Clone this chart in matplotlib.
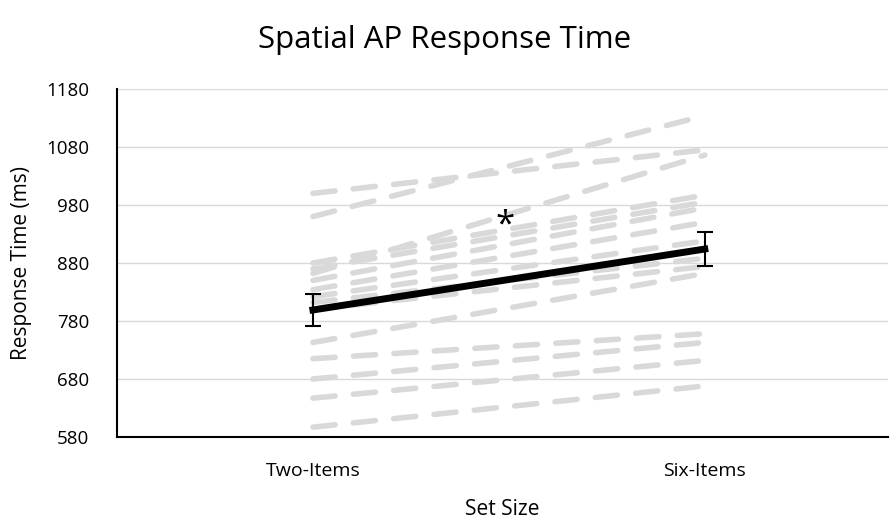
import matplotlib.pyplot as plt

# categories and values
set_sizes = ['Two-Items', 'Six-Items']
two_items = [1000, 960, 862, 880, 870, 850, 834, 822, 812, 800, 743, 715, 680, 647, 597]
six_items = [1075, 1134, 1066, 997, 985, 975, 950, 918, 888, 874, 862, 758, 743, 712, 668]
mean_rt = [799, 904]
err_rt = [27, 30]

plt.rcParams['font.family'] = ['Open Sans', 'DejaVu Sans']

fig = plt.figure(figsize=(8.9, 5.25), dpi=100)
ax = fig.add_axes([0.1315, 0.1676, 0.866, 0.663])

x = [0, 1]

# individual participants as grey dashed lines
for a, b in zip(two_items, six_items):
    ax.plot(x, [a, b], color='#d9d9d9', lw=4, ls=(0, (4.0, 3.3)),
            dash_capstyle='round', zorder=2)

# group mean with error bars
ax.errorbar(x, mean_rt, yerr=err_rt, color='black', lw=5, ecolor='black',
            elinewidth=1.5, capsize=6, capthick=1.5, zorder=3)

ax.text(0.49, 945, '*', fontsize=25, ha='center', va='center')

ax.set_xlim(-0.5, 1.467)
ax.set_ylim(580, 1180)
ax.set_yticks(range(580, 1181, 100))
ax.set_xticks(x)
ax.set_xticklabels(set_sizes)
ax.yaxis.grid(True, color='#d9d9d9', lw=1)
ax.set_axisbelow(True)
ax.tick_params(axis='y', length=0, labelsize=13.5, pad=20)
ax.tick_params(axis='x', length=0, labelsize=14, pad=18)
for s in ['top', 'right']:
    ax.spines[s].set_visible(False)
ax.spines['left'].set_linewidth(1.5)
ax.spines['bottom'].set_linewidth(1.5)

ax.set_ylabel('Response Time (ms)', fontsize=15, labelpad=10)
ax.set_xlabel('Set Size', fontsize=15, labelpad=14)
fig.suptitle('Spatial AP Response Time', fontsize=22.5, x=0.5, y=0.952)

plt.savefig('out.png', dpi=100)
